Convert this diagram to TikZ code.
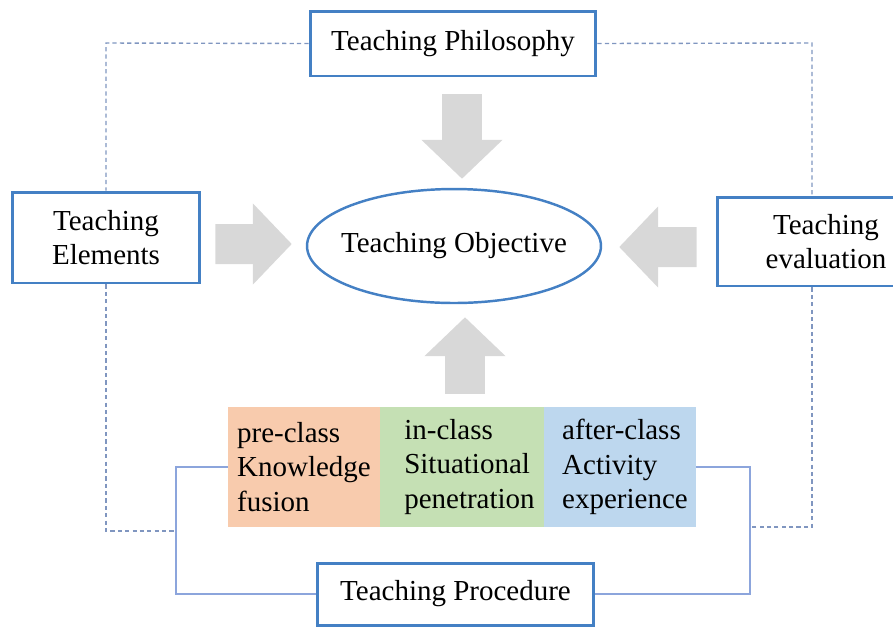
\documentclass[tikz,border=0pt]{standalone}
\usepackage{fontspec}
\setmainfont{Liberation Serif}
\usetikzlibrary{calc,arrows.meta,shapes.geometric}
\definecolor{boxblue}{RGB}{68,128,196}
\definecolor{dashblue}{RGB}{128,150,192}
\definecolor{linkblue}{RGB}{140,165,220}
\definecolor{fatgray}{RGB}{216,216,216}
\definecolor{preorange}{RGB}{248,203,173}
\definecolor{ingreen}{RGB}{197,224,180}
\definecolor{afterblue}{RGB}{189,215,238}

\tikzset{
  frame/.style={draw=boxblue, line width=1.7pt, fill=white, inner sep=0pt, align=center},
  stage/.style={inner sep=0pt, minimum height=2.4cm, align=left},
  dashlink/.style={draw=dashblue, line width=0.8pt, dash pattern=on 2.4pt off 1.8pt},
  link/.style={draw=linkblue, line width=0.9pt},
  fat/.style={draw=fatgray, line width=0.8cm, -{Triangle[length=0.78cm,width=1.58cm]}}
}

\begin{document}
\begin{tikzpicture}[x=0.02cm, y=-0.02cm, font=\fontsize{16.5}{19.8}\selectfont]
\clip (0,0) rectangle (893,627);

\node[frame, minimum width=5.72cm, minimum height=1.3cm] (phil) at (453,43.5) {Teaching Philosophy};
\node[frame, minimum width=3.76cm, minimum height=1.82cm] (elem) at (106,237.5) {Teaching\\Elements};
\node[frame, minimum width=4.36cm, minimum height=1.78cm] (eval) at (826,241.5) {Teaching\\evaluation};
\node[draw=boxblue, line width=1.4pt, ellipse, inner sep=0pt, minimum width=5.88cm, minimum height=2.28cm,
  label=center:Teaching Objective] (goal) at (454,246) {};

\node[stage, fill=preorange, minimum width=3.04cm] (pre) at (304,467) {pre-class\\Knowledge\\fusion};
\node[stage, fill=ingreen, minimum width=3.28cm] (in) at (462,467) {\hspace*{0.3cm}in-class\\\hspace*{0.3cm}Situational\\\hspace*{0.3cm}penetration};
\node[stage, fill=afterblue, minimum width=3.04cm] (post) at (620,467) {\hspace*{0.2cm}after-class\\\hspace*{0.2cm}Activity\\\hspace*{0.2cm}experience};

\node[frame, minimum width=5.54cm, minimum height=1.24cm] (proc) at (455.5,594) {Teaching Procedure};

\coordinate (tl) at (106,43);
\coordinate (tr) at (812,43);
\coordinate (lc) at (176,531);
\coordinate (rc) at (750,527);

% dashed frame round the model
\draw[dashlink] (phil.west) -- (tl) -- (elem.north);
\draw[dashlink] (phil.east) -- (tr) -- (tr |- eval.north);
\draw[dashlink] (elem.south) |- (lc);
\draw[dashlink] (eval.south -| tr) |- (rc);

% procedure loop
\draw[link] (pre.west) -| (lc) |- (proc.west);
\draw[link] (post.east) -| (rc) |- (proc.east);

% block arrows into the objective
\draw[fat] ($(phil.south)+(9,17)$) -- ($(goal.north)+(8,-9)$);
\draw[fat] ($(elem.east)+(14,6.5)$) -- ($(goal.west)+(-14,-2)$);
\draw[fat] ($(eval.west)+(-19,5.5)$) -- ($(goal.east)+(17,1)$);
\draw[fat] ($(in.north)+(3,-13)$) -- ($(goal.south)+(11,13)$);

\end{tikzpicture}
\end{document}
